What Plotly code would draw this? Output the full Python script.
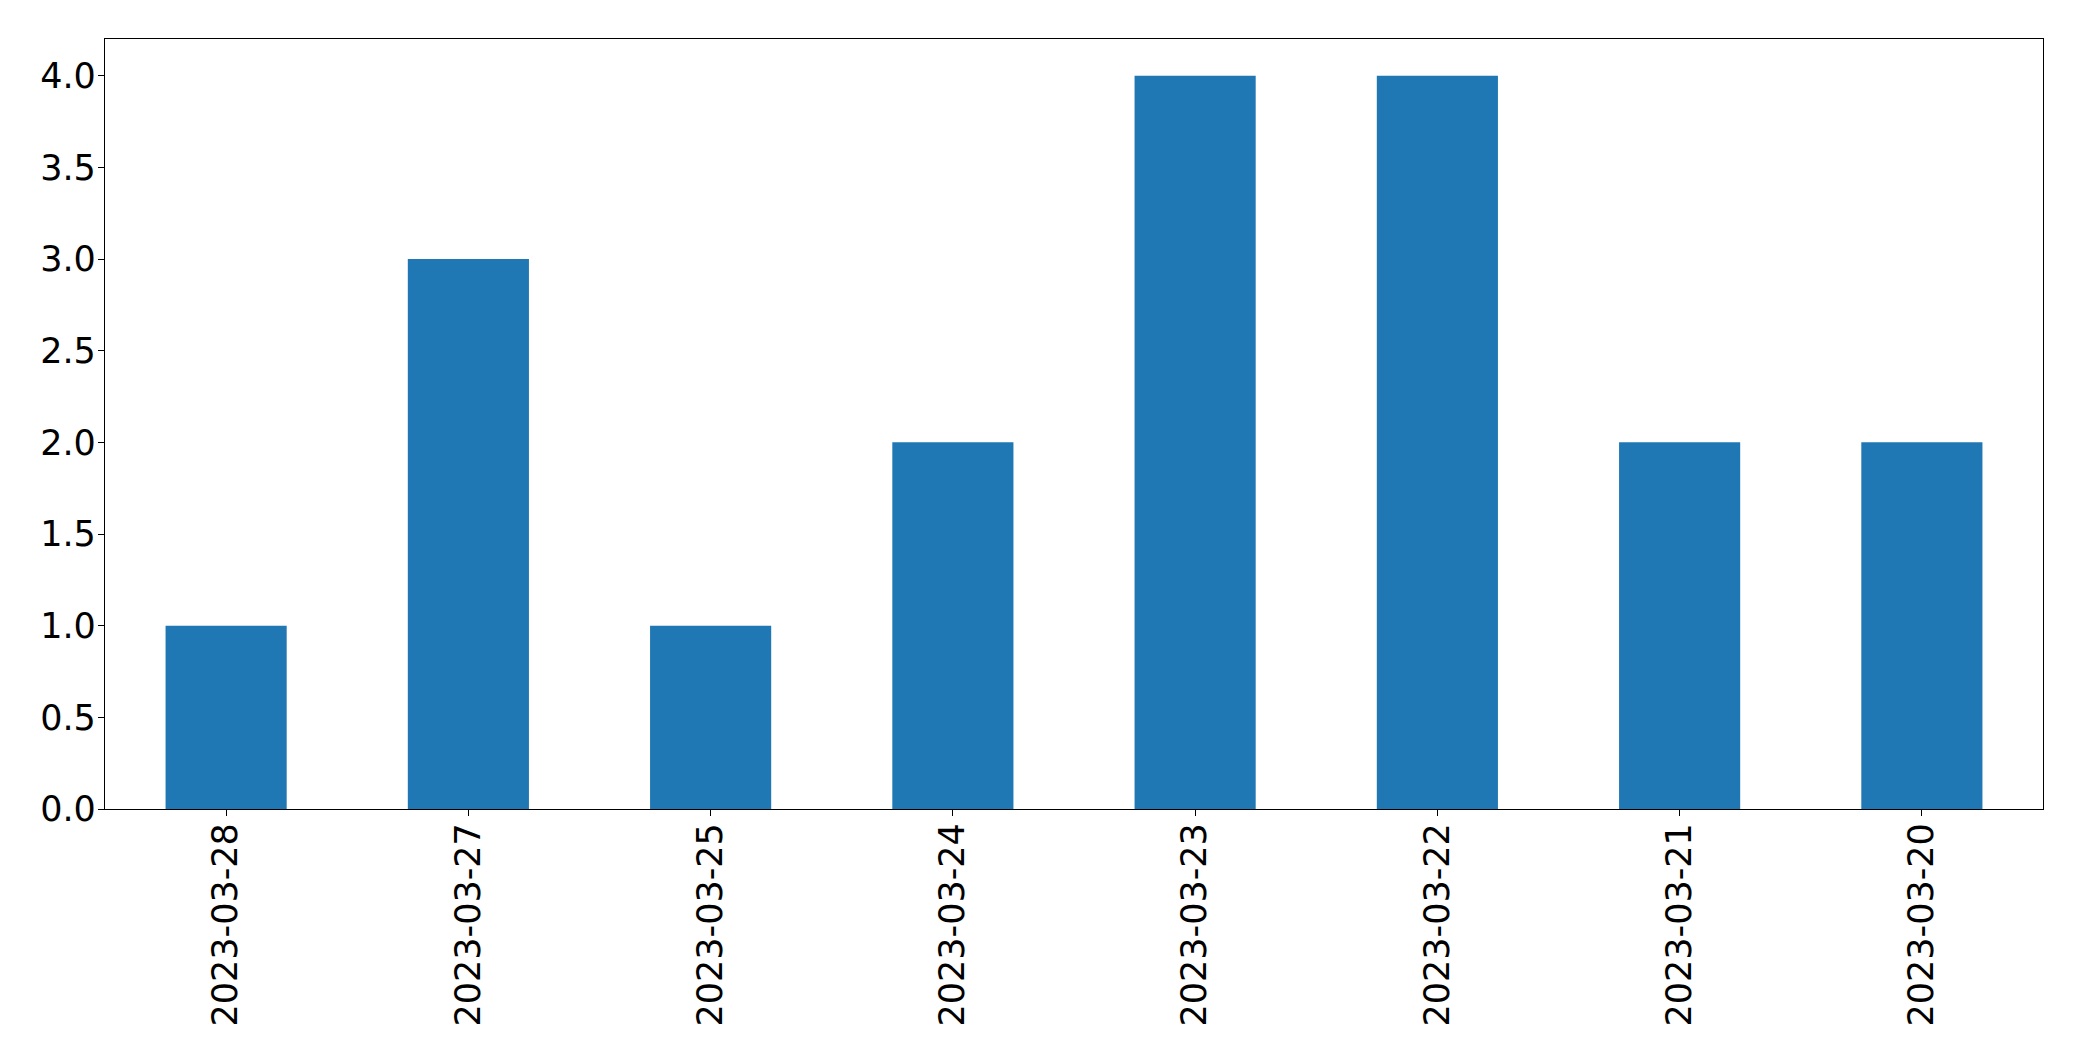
import plotly.graph_objects as go

dates = ["2023-03-28", "2023-03-27", "2023-03-25", "2023-03-24",
         "2023-03-23", "2023-03-22", "2023-03-21", "2023-03-20"]
counts = [1, 3, 1, 2, 4, 4, 2, 2]
y_ticks = [0.0, 0.5, 1.0, 1.5, 2.0, 2.5, 3.0, 3.5, 4.0]
y_tick_labels = ["0.0", "0.5", "1.0", "1.5", "2.0", "2.5", "3.0", "3.5", "4.0"]

fig = go.Figure(go.Bar(x=dates, y=counts, marker_color="#1f77b4",
                       marker_line_width=0, width=0.5))

font = dict(family="DejaVu Sans", size=35, color="black")
fig.update_layout(
    width=2074, height=1053,
    margin=dict(l=97, r=39, t=31, b=252, pad=0),
    paper_bgcolor="white", plot_bgcolor="white",
    font=font, showlegend=False, bargap=0.5,
)
fig.update_xaxes(type="category", range=[-0.5, 7.5], tickangle=-90,
                 showline=True, linecolor="black", linewidth=1.3, mirror=True,
                 ticks="outside", ticklen=6, tickcolor="black", tickwidth=1.3,
                 showgrid=False, zeroline=False, tickfont=font,
                 ticklabelstandoff=-7)
fig.update_yaxes(range=[0, 4.2], tickvals=y_ticks, ticktext=y_tick_labels,
                 showline=True, linecolor="black", linewidth=1.3, mirror=True,
                 ticks="outside", ticklen=6, tickcolor="black", tickwidth=1.3,
                 showgrid=False, zeroline=False, tickfont=font,
                 ticklabelstandoff=-5)

fig.write_html("out.html")
